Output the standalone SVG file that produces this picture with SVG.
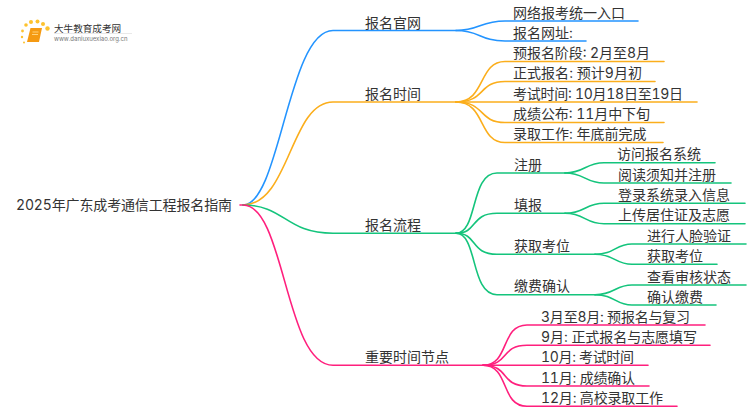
<svg xmlns="http://www.w3.org/2000/svg" width="750" height="410" viewBox="0 0 750 410">
<style>
text{font-family:"Inter","Noto Sans CJK SC",sans-serif;font-size:14px;fill:#333;font-variant-numeric:tabular-nums}
#connectors path{fill:none;stroke-width:1.6;stroke-linecap:round}
.b path{stroke:#2394ff}
.o path{stroke:#fbae1c}
.g path{stroke:#14c47c}
.p path{stroke:#ff1f7d}
</style>
<rect width="750" height="410" fill="#fff"/>
<g id="logo">
<g fill="#fdc22e"><circle cx="26" cy="25" r="1.800"/><circle cx="31" cy="22" r="2"/><circle cx="37.500" cy="21.500" r="2"/><circle cx="43" cy="24" r="2"/><circle cx="47.500" cy="28.500" r="2.200"/><circle cx="22.500" cy="31" r="1.400"/><circle cx="22" cy="37" r="1.200"/><circle cx="24" cy="42.500" r="1"/></g>
<path d="M30.500 28H42L39 42H27Z" fill="#f59a12"/>
<path d="M32.500 32H38.500M32 34.500H38" fill="none" stroke="#ffd27a" stroke-width="1"/>
<rect x="54" y="33" width="78" height="0.800" fill="#e4e4e4"/>
<text x="54" y="31.500" style="font-size:9.600px">大牛教育成考网</text>
<text x="54" y="41" style="font-size:6px;fill:#777">www.daniuxuexiao.org.cn</text>
</g>
<g id="connectors">
<g class="p"><path d="M240 205H243"/></g>
<g class="b">
<path d="M243 205C280 205 288 30.500 333 30.500H456"/>
<path d="M456 30.500C480 30.500 480 21 505 21H638"/>
<path d="M456 30.500C480 30.500 480 41 505 41H586"/>
</g>
<g class="o">
<path d="M243 205C290 205 290 102 333 102H456"/>
<path d="M456 102C486 102 478 61.500 505 61.500H664"/>
<path d="M456 102C486 102 478 81.500 505 81.500H655"/>
<path d="M456 102H697"/>
<path d="M456 102C486 102 478 122.500 505 122.500H664"/>
<path d="M456 102C486 102 478 142.500 505 142.500H663"/>
</g>
<g class="g">
<path d="M243 205C285 205 285 233.300 333 233.300H456"/>
<path d="M456 233.300C478 233.300 470 173 497 173H565"/>
<path d="M456 233.300C478 233.300 470 213.300 497 213.300H565"/>
<path d="M456 233.300C478 233.300 470 254.300 497 254.300H595"/>
<path d="M456 233.300C478 233.300 470 294.700 497 294.700H595"/>
<path d="M565 173C585 173 585 162.700 604 162.700H715"/>
<path d="M565 173C585 173 585 183 604 183H731"/>
<path d="M565 213.300C585 213.300 585 203.300 604 203.300H745"/>
<path d="M565 213.300C585 213.300 585 223.700 604 223.700H745"/>
<path d="M595 254.300C615 254.300 615 244 632 244H746"/>
<path d="M595 254.300C615 254.300 615 264.300 632 264.300H717"/>
<path d="M595 294.700C615 294.700 615 285 632 285H746"/>
<path d="M595 294.700C615 294.700 615 305 632 305H716"/>
</g>
<g class="p">
<path d="M243 205C285 205 285 365.300 333 365.300H483"/>
<path d="M483 365.300C510 365.300 500 325 527 325H705"/>
<path d="M483 365.300C510 365.300 500 345.300 527 345.300H710"/>
<path d="M483 365.300H648"/>
<path d="M483 365.300C510 365.300 500 386 527 386H649"/>
<path d="M483 365.300C510 365.300 500 406.300 527 406.300H677"/>
</g>
</g>
<g id="root"><text x="16" y="210" textLength="216">2025年广东成考通信工程报名指南</text></g>
<g id="n1"><text x="365" y="27.500">报名官网</text></g>
<g id="n1-1"><text x="513" y="17.500">网络报考统一入口</text></g>
<g id="n1-2"><text x="513" y="38">报名网址:</text></g>
<g id="n2"><text x="365" y="98.500">报名时间</text></g>
<g id="n2-1"><text x="513" y="58" textLength="137">预报名阶段: 2月至8月</text></g>
<g id="n2-2"><text x="513" y="78" textLength="129">正式报名: 预计9月初</text></g>
<g id="n2-3"><text x="513" y="98.500" textLength="170">考试时间: 10月18日至19日</text></g>
<g id="n2-4"><text x="513" y="119" textLength="137">成绩公布: 11月中下旬</text></g>
<g id="n2-5"><text x="513" y="139">录取工作: 年底前完成</text></g>
<g id="n3"><text x="365" y="230">报名流程</text></g>
<g id="n3-1"><text x="514" y="169.500">注册</text></g>
<g id="n3-1-1"><text x="617" y="159">访问报名系统</text></g>
<g id="n3-1-2"><text x="618" y="179.500">阅读须知并注册</text></g>
<g id="n3-2"><text x="514" y="210">填报</text></g>
<g id="n3-2-1"><text x="618" y="200">登录系统录入信息</text></g>
<g id="n3-2-2"><text x="618" y="220">上传居住证及志愿</text></g>
<g id="n3-3"><text x="514" y="250.500">获取考位</text></g>
<g id="n3-3-1"><text x="647" y="240.500">进行人脸验证</text></g>
<g id="n3-3-2"><text x="647" y="260.500">获取考位</text></g>
<g id="n3-4"><text x="514" y="291">缴费确认</text></g>
<g id="n3-4-1"><text x="647" y="281.500">查看审核状态</text></g>
<g id="n3-4-2"><text x="647" y="301.500">确认缴费</text></g>
<g id="n4"><text x="365" y="362">重要时间节点</text></g>
<g id="n4-1"><text x="541" y="321.500" textLength="149">3月至8月: 预报名与复习</text></g>
<g id="n4-2"><text x="541" y="342" textLength="156">9月: 正式报名与志愿填写</text></g>
<g id="n4-3"><text x="541" y="362" textLength="93">10月: 考试时间</text></g>
<g id="n4-4"><text x="541" y="382.500" textLength="94">11月: 成绩确认</text></g>
<g id="n4-5"><text x="541" y="403" textLength="122">12月: 高校录取工作</text></g>
</svg>
